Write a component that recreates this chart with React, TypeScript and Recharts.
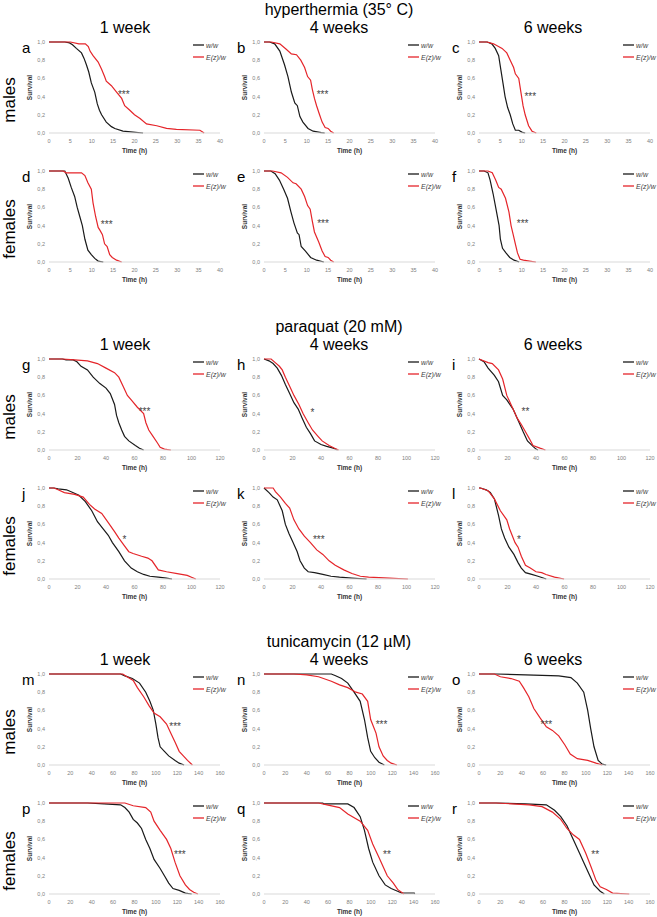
import React from "react"
import { LineChart, Line, XAxis, YAxis, ReferenceDot } from "recharts"

type Pt = [number, number]

// ---- axis ticks ----
const survivalTicks = [0, 0.1, 0.2, 0.3, 0.4, 0.5, 0.6, 0.7, 0.8, 0.9, 1]
const hyperTicks = [0, 5, 10, 15, 20, 25, 30, 35, 40]
const paraquatTicks = [0, 20, 40, 60, 80, 100, 120]
const tunicTicks = [0, 20, 40, 60, 80, 100, 120, 140, 160]

// ---- labels ----
const sectionTitles = ["hyperthermia (35° C)", "paraquat (20 mM)", "tunicamycin (12 µM)"]
const ageTitles = ["1 week", "4 weeks", "6 weeks"]
const sexLabels = ["males", "females"]
const panelLetters = ["a", "b", "c", "d", "e", "f", "g", "h", "i", "j", "k", "l", "m", "n", "o", "p", "q", "r"]
const legendNames = ["w/w", "E(z)/w"]

// ---- survival curves (time, fraction alive) ----
// hyperthermia
const aBlack: Pt[] = [[0, 1], [3.7, 1], [4.8, 0.99], [5.5, 0.97], [6.4, 0.93], [7.6, 0.88], [8.2, 0.82], [8.75, 0.75], [9.3, 0.67], [9.9, 0.55], [10.7, 0.45], [11.3, 0.32], [11.8, 0.25], [12.3, 0.2], [13.4, 0.12], [14.6, 0.07], [15.4, 0.05], [17.3, 0.02], [19.7, 0.01], [22, 0]]
const aRed: Pt[] = [[0, 1], [5, 1], [7, 0.98], [8.5, 0.98], [9.2, 0.95], [9.6, 0.9], [10.3, 0.85], [11.5, 0.78], [12.3, 0.7], [13, 0.62], [13.4, 0.57], [14.6, 0.52], [15.8, 0.45], [17, 0.38], [17.7, 0.3], [18.9, 0.25], [20, 0.2], [21.3, 0.16], [22.8, 0.1], [25.2, 0.08], [27.5, 0.05], [29.8, 0.04], [35.3, 0.03], [36.3, 0]]
const bBlack: Pt[] = [[0, 1], [1.3, 1], [2.5, 0.98], [3.7, 0.9], [4.8, 0.75], [5.6, 0.62], [6.4, 0.45], [7.2, 0.33], [7.8, 0.3], [8.4, 0.18], [9.1, 0.12], [10.3, 0.05], [11.5, 0.02], [13.4, 0.005], [14.2, 0]]
const bRed: Pt[] = [[0, 1], [1.7, 1], [3.7, 0.98], [5.2, 0.92], [6.4, 0.87], [7.6, 0.86], [8.6, 0.8], [9.5, 0.72], [10.2, 0.62], [10.9, 0.58], [11.3, 0.48], [11.8, 0.38], [12.3, 0.3], [13, 0.2], [13.6, 0.12], [14.3, 0.06], [15, 0.05], [15.6, 0.02], [16.3, 0]]
const cBlack: Pt[] = [[0, 1], [1.9, 1], [3, 0.98], [3.8, 0.93], [4.6, 0.85], [5.1, 0.7], [5.6, 0.55], [6.1, 0.4], [6.7, 0.28], [7.3, 0.2], [7.9, 0.1], [8.5, 0.03], [9.3, 0.03], [10, 0.01], [10.8, 0]]
const cRed: Pt[] = [[0, 1], [1.9, 1], [3.4, 0.98], [5.4, 0.93], [6.5, 0.88], [7.3, 0.8], [8.1, 0.72], [8.5, 0.65], [9.3, 0.6], [9.8, 0.45], [10.3, 0.3], [10.8, 0.2], [11.6, 0.08], [12.4, 0.02], [13.4, 0]]
const dBlack: Pt[] = [[0, 1], [3.7, 1], [4.5, 0.92], [5.2, 0.82], [6, 0.72], [6.6, 0.6], [7.2, 0.5], [7.8, 0.4], [8.4, 0.25], [9.1, 0.13], [9.9, 0.08], [10.7, 0.04], [11.5, 0.01], [12.7, 0]]
const dRed: Pt[] = [[0, 1], [3.3, 1], [4, 0.98], [7.6, 0.98], [8.4, 0.95], [9.1, 0.87], [9.9, 0.8], [10.3, 0.65], [10.9, 0.5], [11.5, 0.38], [11.9, 0.35], [12.5, 0.3], [13, 0.2], [13.6, 0.17], [14.2, 0.08], [14.8, 0.05], [15.8, 0.02], [17, 0]]
const eBlack: Pt[] = [[0, 1], [1.6, 1], [2.6, 0.97], [3.6, 0.9], [4.6, 0.8], [5.5, 0.7], [6.3, 0.55], [7, 0.43], [7.8, 0.32], [8.2, 0.3], [8.7, 0.17], [9.7, 0.12], [10.9, 0.05], [12.3, 0.02], [14, 0]]
const eRed: Pt[] = [[0, 1], [2, 1], [4, 0.98], [5.5, 0.93], [6.8, 0.87], [7.5, 0.86], [8.7, 0.8], [9.5, 0.72], [10.2, 0.62], [10.8, 0.58], [11.3, 0.45], [11.8, 0.33], [12.8, 0.22], [13.6, 0.12], [14.3, 0.06], [15, 0.05], [15.6, 0.02], [16.3, 0]]
const fBlack: Pt[] = [[0, 1], [1.2, 1], [2.1, 0.98], [2.6, 0.9], [3.3, 0.75], [4.1, 0.55], [4.7, 0.4], [5, 0.25], [5.5, 0.15], [6.3, 0.1], [7.2, 0.05], [8.2, 0.02], [9.4, 0]]
const fRed: Pt[] = [[0, 1], [2.1, 1], [3.1, 0.98], [3.9, 0.9], [4.6, 0.82], [5.2, 0.8], [6.2, 0.7], [7, 0.55], [7.5, 0.4], [8, 0.3], [8.5, 0.2], [9, 0.1], [9.6, 0.03], [10.4, 0.02], [11.8, 0.01], [13.3, 0]]
// paraquat
const gBlack: Pt[] = [[0, 1], [9.4, 1], [12, 0.99], [17, 0.99], [19.6, 0.97], [22.5, 0.92], [27, 0.88], [31, 0.8], [35.7, 0.73], [40, 0.68], [43, 0.62], [46, 0.5], [47.4, 0.38], [49, 0.3], [51, 0.22], [53, 0.15], [56, 0.1], [60.6, 0.05], [63.5, 0.02], [66.4, 0]]
const gRed: Pt[] = [[0, 1], [9.4, 1], [18, 0.99], [27, 0.98], [34, 0.95], [40, 0.9], [46, 0.85], [49, 0.8], [52, 0.7], [55, 0.6], [57.7, 0.55], [62, 0.47], [66.4, 0.4], [68, 0.3], [70, 0.22], [73, 0.15], [76, 0.08], [78, 0.03], [81, 0.01], [85.5, 0]]
const hBlack: Pt[] = [[0, 1], [3.5, 0.98], [6.4, 0.95], [9.3, 0.9], [12.2, 0.82], [15, 0.72], [18, 0.62], [21, 0.52], [24, 0.45], [26.8, 0.35], [29.7, 0.25], [32.6, 0.18], [35.5, 0.1], [40, 0.06], [44, 0.04], [48.6, 0.02], [51.6, 0]]
const hRed: Pt[] = [[0, 1], [5, 1], [7.9, 0.96], [10.8, 0.92], [12.8, 0.88], [15, 0.8], [18, 0.7], [21, 0.6], [24.5, 0.5], [27.4, 0.4], [31, 0.3], [34, 0.22], [37.9, 0.15], [40.8, 0.1], [45.7, 0.05], [49.5, 0.02], [52.4, 0]]
const iBlack: Pt[] = [[0, 1], [3.5, 0.97], [6.4, 0.9], [10.8, 0.82], [13.7, 0.75], [16.6, 0.6], [19.5, 0.55], [23.9, 0.45], [26.8, 0.35], [31, 0.2], [34, 0.1], [37.9, 0.04], [40, 0.01], [41.4, 0]]
const iRed: Pt[] = [[0, 1], [6.4, 0.96], [9.3, 0.95], [13.7, 0.88], [16.6, 0.78], [19.5, 0.6], [23.9, 0.45], [26.8, 0.35], [29.7, 0.28], [32.6, 0.2], [35.5, 0.12], [37.9, 0.05], [42.8, 0.02], [46.6, 0]]
const jBlack: Pt[] = [[0, 1], [3.5, 1], [6.4, 0.99], [12.3, 0.98], [16.7, 0.95], [21, 0.92], [25.5, 0.85], [30, 0.75], [34, 0.63], [38, 0.55], [41.6, 0.48], [44.5, 0.4], [49, 0.3], [53, 0.2], [57.7, 0.12], [62, 0.08], [66.4, 0.05], [70.8, 0.03], [76.7, 0.02], [82.5, 0.01], [86.3, 0]]
const jRed: Pt[] = [[0, 1], [3.5, 1], [6.4, 0.98], [10.8, 0.95], [18, 0.93], [24, 0.9], [28.4, 0.82], [32, 0.77], [37, 0.72], [41.6, 0.62], [46, 0.52], [49, 0.45], [52.7, 0.37], [56, 0.3], [59, 0.28], [65, 0.25], [69.4, 0.23], [72.3, 0.2], [76.7, 0.1], [82.5, 0.08], [90, 0.06], [97, 0.04], [100, 0.02], [103, 0]]
const kBlack: Pt[] = [[0, 1], [3.5, 0.95], [6.4, 0.9], [9.3, 0.87], [12.8, 0.75], [15, 0.6], [17.5, 0.5], [20.4, 0.4], [23.3, 0.3], [25.3, 0.2], [28.3, 0.12], [31, 0.08], [35.5, 0.07], [41.3, 0.05], [47, 0.03], [53, 0.02], [61.7, 0.01], [72, 0]]
const kRed: Pt[] = [[0, 1], [6.4, 1], [8, 0.96], [11.6, 0.9], [15, 0.83], [18, 0.78], [21, 0.65], [24.5, 0.55], [28.3, 0.47], [32.6, 0.4], [37, 0.32], [41.3, 0.27], [45.7, 0.2], [50, 0.15], [56, 0.1], [61.7, 0.06], [67.6, 0.03], [73.4, 0.02], [88, 0.01], [101, 0]]
const lBlack: Pt[] = [[0, 1], [1, 1], [5, 0.98], [7.9, 0.95], [10.8, 0.88], [13.7, 0.7], [15.7, 0.55], [18, 0.45], [21, 0.35], [24.5, 0.27], [27.4, 0.18], [29.7, 0.12], [32.6, 0.07], [37, 0.05], [41.4, 0.03], [47.2, 0]]
const lRed: Pt[] = [[0, 1], [1, 1], [6.4, 0.97], [10.8, 0.88], [15, 0.75], [19.5, 0.65], [21.5, 0.55], [25.3, 0.4], [27.4, 0.35], [29.7, 0.25], [32.6, 0.15], [36, 0.12], [40, 0.08], [44, 0.07], [47, 0.05], [53, 0.02], [59.7, 0]]
// tunicamycin
const mBlack: Pt[] = [[0, 1], [67, 1], [71, 0.98], [78, 0.95], [84.7, 0.9], [90.5, 0.8], [94.4, 0.7], [97.6, 0.6], [100, 0.45], [102, 0.3], [104, 0.2], [108, 0.15], [112, 0.1], [118, 0.05], [121.8, 0.02], [126.4, 0]]
const mRed: Pt[] = [[0, 1], [69, 1], [73, 0.97], [78.8, 0.93], [82.7, 0.85], [88.6, 0.75], [93.7, 0.65], [98.3, 0.57], [104, 0.53], [110, 0.45], [114, 0.35], [118, 0.25], [121.8, 0.15], [125.7, 0.1], [129.6, 0.05], [134.2, 0]]
const nBlack: Pt[] = [[0, 1], [63, 1], [67, 0.98], [72.6, 0.95], [78.4, 0.9], [84.3, 0.8], [90, 0.7], [94, 0.5], [97, 0.3], [99.8, 0.15], [103.7, 0.08], [107.6, 0.03], [112.6, 0]]
const nRed: Pt[] = [[0, 1], [28, 1], [40, 0.99], [51, 0.97], [63, 0.92], [70.7, 0.88], [78.4, 0.85], [86, 0.8], [92, 0.78], [97, 0.7], [99.8, 0.5], [104.8, 0.35], [107.6, 0.2], [111.5, 0.1], [115.3, 0.05], [119, 0.02], [124.3, 0]]
const oBlack: Pt[] = [[0, 1], [16, 1], [43.5, 0.99], [74.6, 0.98], [86, 0.96], [92, 0.9], [98, 0.8], [101.7, 0.6], [104.5, 0.4], [107.6, 0.2], [111.5, 0.05], [115.3, 0.01], [119, 0]]
const oRed: Pt[] = [[0, 1], [14.4, 1], [20, 0.97], [30, 0.95], [37.7, 0.92], [41.6, 0.85], [46.6, 0.75], [51.3, 0.62], [57, 0.52], [63, 0.42], [68.7, 0.38], [74.6, 0.32], [80.4, 0.22], [85.4, 0.12], [92, 0.07], [101.7, 0.05], [109.5, 0.02], [115.3, 0]]
const pBlack: Pt[] = [[0, 1], [36, 1], [51.5, 0.99], [67, 0.98], [71, 0.95], [75, 0.9], [78.8, 0.82], [82.7, 0.78], [86.6, 0.72], [90.5, 0.6], [94.4, 0.5], [98.3, 0.38], [104, 0.28], [108, 0.2], [112, 0.12], [116, 0.06], [121.8, 0.04], [127.6, 0.01], [133.5, 0]]
const pRed: Pt[] = [[0, 1], [71, 1], [78.8, 0.97], [90.5, 0.95], [95.2, 0.9], [98.3, 0.8], [104, 0.7], [110, 0.6], [114, 0.5], [117.9, 0.35], [122.5, 0.2], [127.6, 0.1], [131.5, 0.05], [135.4, 0.02], [139.3, 0]]
const qBlack: Pt[] = [[0, 1], [55, 1], [56, 0.99], [78.4, 0.99], [84.3, 0.95], [90, 0.85], [94, 0.7], [97.9, 0.5], [101.7, 0.35], [107.6, 0.2], [113.4, 0.1], [119, 0.06], [125, 0.03], [129, 0.01], [140.6, 0.01], [141, 0]]
const qRed: Pt[] = [[0, 1], [51, 1], [59, 0.98], [70.7, 0.95], [78.4, 0.88], [90, 0.8], [97, 0.7], [101.7, 0.55], [107.6, 0.4], [111.5, 0.3], [115.3, 0.2], [121, 0.12], [125, 0.05], [130.9, 0]]
const rBlack: Pt[] = [[0, 1], [16, 1], [43.5, 0.99], [63, 0.98], [70.7, 0.92], [76.5, 0.85], [82.3, 0.75], [88.2, 0.6], [94, 0.45], [97.9, 0.35], [103.7, 0.2], [107.6, 0.1], [113.4, 0.03], [117.3, 0]]
const rRed: Pt[] = [[0, 1], [16, 1], [47, 0.98], [59, 0.96], [68.7, 0.9], [76.5, 0.82], [82.3, 0.72], [88.2, 0.65], [94, 0.6], [99.8, 0.45], [104.8, 0.3], [109.5, 0.15], [113.4, 0.08], [119.2, 0.05], [125, 0.01], [140.6, 0]]

// ---- significance marks (a..r) ----
const stars = ["***", "***", "***", "***", "***", "***", "***", "*", "**", "*", "***", "*", "***", "***", "***", "***", "**", "**"]
const starTime = [17.5, 13.7, 12, 13.5, 13.8, 10.2, 67, 34, 32.6, 53, 38.4, 28, 118, 110, 63, 122.5, 115, 108.7]
const starSurv = [0.45, 0.45, 0.42, 0.43, 0.44, 0.45, 0.45, 0.43, 0.45, 0.46, 0.46, 0.46, 0.45, 0.47, 0.47, 0.46, 0.46, 0.46]

const blackSeries = [aBlack, bBlack, cBlack, dBlack, eBlack, fBlack, gBlack, hBlack, iBlack, jBlack, kBlack, lBlack, mBlack, nBlack, oBlack, pBlack, qBlack, rBlack]
const redSeries = [aRed, bRed, cRed, dRed, eRed, fRed, gRed, hRed, iRed, jRed, kRed, lRed, mRed, nRed, oRed, pRed, qRed, rRed]
const sectionTicks = [hyperTicks, paraquatTicks, tunicTicks]

const BLACK = "#1a1a1a"
const RED = "#e5252a"
const FONT = "'Liberation Sans', Arial, sans-serif"

const sectionTop = [0, 317, 632]
const colLeft = [0, 215, 430]
const rowOffset = [42, 171]

const toRows = (pts: Pt[]) => pts.map(([x, y]) => ({ x, y }))
const fmtSurv = (v: number) => v.toFixed(1).replace(".", ",")

interface PanelProps {
  left: number
  top: number
  ticks: number[]
  black: Pt[]
  red: Pt[]
  star: string
  sx: number
  sy: number
}

const Panel = ({ left, top, ticks, black, red, star, sx, sy }: PanelProps) => {
  const max = ticks[ticks.length - 1]
  return (
    <div style={{ position: "absolute", left, top: top - 8 }}>
      <LineChart width={225} height={127} margin={{ top: 8, right: 5, bottom: 0, left: 11 }}>
        <XAxis
          type="number"
          dataKey="x"
          domain={[0, max]}
          ticks={ticks}
          tickLine={false}
          tickSize={5}
          tickMargin={1}
          height={28}
          axisLine={{ stroke: "#d9d9d9" }}
          tick={{ fontSize: 5.5, fill: "#808080" }}
          label={{ value: "Time (h)", position: "insideBottom", offset: 8, fontSize: 6.5, fontWeight: "bold", fill: "#333" }}
        />
        <YAxis
          type="number"
          domain={[0, 1]}
          ticks={survivalTicks}
          tickFormatter={fmtSurv}
          tickLine={false}
          axisLine={false}
          tickSize={2}
          tickMargin={2}
          width={38}
          tick={{ fontSize: 5.5, fill: "#808080" }}
          label={{ value: "Survival", angle: -90, position: "center", fontSize: 6.5, fontWeight: "bold", fill: "#333" }}
        />
        <Line data={toRows(black)} dataKey="y" type="linear" stroke={BLACK} strokeWidth={1.2} dot={false} isAnimationActive={false} />
        <Line data={toRows(red)} dataKey="y" type="linear" stroke={RED} strokeWidth={1.2} dot={false} isAnimationActive={false} />
        <ReferenceDot
          x={sx}
          y={sy}
          r={0}
          shape={(p: any) => (
            <text x={p.cx} y={p.cy} textAnchor="middle" dy="0.55em" fontSize={10} fill="#444">
              {star}
            </text>
          )}
        />
      </LineChart>
    </div>
  )
}

export default function App() {
  const panels: React.ReactNode[] = []
  const overlay: React.ReactNode[] = []

  sectionTop.forEach((s, si) => {
    overlay.push(
      <text key={`t${si}`} x={339} y={s + 15} textAnchor="middle" fontSize={16}>
        {sectionTitles[si]}
      </text>
    )
    ageTitles.forEach((a, ci) => {
      overlay.push(
        <text key={`w${si}${ci}`} x={125 + ci * 214} y={s + 33} textAnchor="middle" fontSize={16}>
          {a}
        </text>
      )
    })
    rowOffset.forEach((ro, ri) => {
      const y1 = s + ro
      overlay.push(
        <text
          key={`s${si}${ri}`}
          x={9}
          y={y1 + 58}
          textAnchor="middle"
          dominantBaseline="central"
          fontSize={17}
          transform={`rotate(-90 9 ${y1 + 58})`}
        >
          {sexLabels[ri]}
        </text>
      )
      colLeft.forEach((cl, ci) => {
        const idx = si * 6 + ri * 3 + ci
        panels.push(
          <Panel
            key={`p${idx}`}
            left={cl}
            top={y1}
            ticks={sectionTicks[si]}
            black={blackSeries[idx]}
            red={redSeries[idx]}
            star={stars[idx]}
            sx={starTime[idx]}
            sy={starSurv[idx]}
          />
        )
        overlay.push(
          <text key={`l${idx}`} x={cl + 22} y={y1 + 11} fontSize={15}>
            {panelLetters[idx]}
          </text>
        )
        ;[BLACK, RED].forEach((c, li) => {
          overlay.push(
            <g key={`lg${idx}${li}`}>
              <line x1={cl + 193} x2={cl + 204} y1={y1 + 3 + li * 12} y2={y1 + 3 + li * 12} stroke={c} strokeWidth={1.3} />
              <text x={cl + 206} y={y1 + 3 + li * 12} dominantBaseline="central" fontSize={7} fontStyle="italic" fill="#404040">
                {legendNames[li]}
              </text>
            </g>
          )
        })
      })
    })
  })

  return (
    <div style={{ position: "absolute", left: 0, top: 0, width: 657, height: 917, background: "#fff", fontFamily: FONT }}>
      {panels}
      <svg width={657} height={917} style={{ position: "absolute", left: 0, top: 0, pointerEvents: "none", fontFamily: FONT }}>
        {overlay}
      </svg>
    </div>
  )
}
